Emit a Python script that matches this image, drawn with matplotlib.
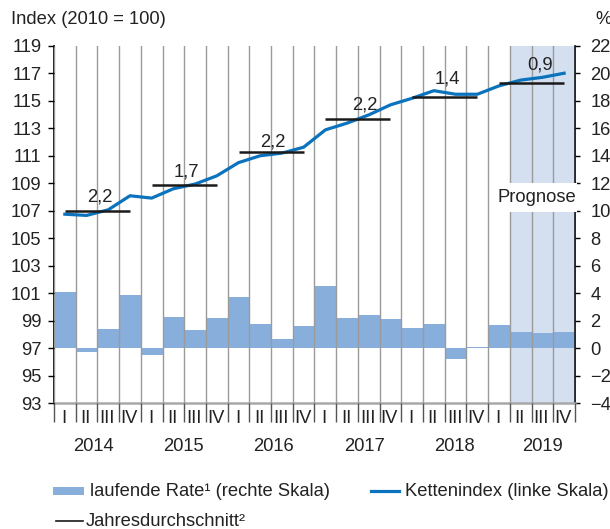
import matplotlib
matplotlib.use("Agg")
import matplotlib.pyplot as plt
import numpy as np
from matplotlib.patches import Rectangle
from matplotlib.lines import Line2D
from matplotlib.transforms import Bbox, TransformedBbox

plt.rcParams['font.family'] = ['Liberation Sans', 'DejaVu Sans']

# ---- data ----
years = ["2014", "2015", "2016", "2017", "2018", "2019"]
quarter_labels = ["I", "II", "III", "IV"] * 6
rate = [4.1, -0.3, 1.4, 3.9, -0.5, 2.3, 1.3, 2.2, 3.7, 1.8, 0.7, 1.6,
        4.5, 2.2, 2.4, 2.1, 1.5, 1.8, -0.8, 0.08, 1.7, 1.2, 1.1, 1.2]
index_vals = [106.75, 106.66, 107.07, 108.09, 107.92, 108.60, 108.94, 109.54,
              110.50, 111.00, 111.19, 111.62, 112.88, 113.37, 113.97, 114.70,
              115.18, 115.73, 115.47, 115.47, 116.08, 116.50, 116.70, 117.00]
annual_avg = [106.97, 108.84, 111.29, 113.68, 115.30, 116.29]
annual_avg_labels = ["2,2", "1,7", "2,2", "2,2", "1,4", "0,9"]
forecast_start = 21  # first forecast quarter (2019 II)

BAR = '#88aedb'
SHADE = '#d4dff0'
LINE = '#0b72bd'
GRID = '#9a9a9a'
TXT = '#222222'
FS = 13.2

fig = plt.figure(figsize=(6.1, 5.29), dpi=100)
ax = fig.add_axes([0.0885, 0.2376, 0.8541, 0.676])
ax2 = ax.twinx()
ax.set_zorder(ax2.get_zorder() + 1)
ax.patch.set_visible(False)

n = len(rate)
xc = np.arange(n) + 0.5

# right axis: shading + bars
ax2.axvspan(forecast_start, n, color=SHADE, zorder=0, lw=0)
ax2.bar(xc, rate, width=1.0, color=BAR, zorder=2, lw=0)
ax2.set_ylim(-4, 22)
ax2.set_yticks(np.arange(-4, 23, 2))
ax2.tick_params(axis='y', right=True, length=3.5, width=1, pad=7.5,
                labelsize=FS, colors='black', labelcolor=TXT)
for s in ['top', 'left', 'bottom']:
    ax2.spines[s].set_visible(False)
ax2.spines['right'].set_linewidth(1.2)

# left axis
ax.set_xlim(0, n)
ax.set_ylim(93, 119)
ax.set_yticks(np.arange(93, 120, 2))
ax.tick_params(axis='y', left=True, length=4, width=1, pad=5,
               labelsize=FS, labelcolor=TXT)
ax.set_xticks(np.arange(0, n + 1))
ax.tick_params(axis='x', length=14, width=1.0, color='#555555', labelbottom=False)
ax.grid(axis='x', color=GRID, lw=1.0, zorder=1)
ax.set_axisbelow(False)
ax.spines['top'].set_visible(False)
ax.spines['right'].set_visible(False)
ax.spines['left'].set_linewidth(1.2)
ax.spines['bottom'].set_color('#a8a8a8')
ax.spines['bottom'].set_linewidth(1.8)

# index line
ax.plot(xc, index_vals, color=LINE, lw=2.3, zorder=4, solid_joinstyle='round')

# annual averages
label_dx = [0.12, 0.08, 0.1, 0.3, 0.1, 0.4]
label_dy = [6.7, 6.5, 3.8, 7.0, 9.6, 10.0]
for i, (v, lab) in enumerate(zip(annual_avg, annual_avg_labels)):
    x0 = 4 * i + 0.5
    ax.plot([x0, x0 + 3], [v, v], color='#1a1a1a', lw=1.8, zorder=5,
            solid_capstyle='butt')
    ax.annotate(lab, (4 * i + 2 + label_dx[i], v), xytext=(0, label_dy[i]),
                textcoords='offset points', ha='center', va='baseline',
                fontsize=FS, color=TXT, zorder=6)

# Prognose box
fig.patches.append(Rectangle((498 / 610, (529 - 212) / 529), 79 / 610, 29 / 529,
                             transform=fig.transFigure, facecolor='white',
                             edgecolor='none', zorder=5))
fig.text(537 / 610, (529 - 197) / 529, "Prognose", ha='center', va='center',
         fontsize=FS, color=TXT, zorder=6)

# quarter labels (clipped like the original)
clip = TransformedBbox(Bbox([[0, (529 - 426) / 529], [1, (529 - 404) / 529]]),
                       fig.transFigure)
for k, q in enumerate(quarter_labels):
    t = ax.annotate(q, (k + 0.45, 93), xytext=(0, -4.5), textcoords='offset points',
                    ha='center', va='top', fontsize=FS, color=TXT,
                    annotation_clip=False)
    t.set_clip_on(True)
    t.set_clip_box(clip)

# year labels
year_dx = [-0.2, -0.05, 0.1, 0.3, 0.45, 0.5]
year_y = -(446 - 403.3) / (0.676 * 529)
for i, y in enumerate(years):
    ax.text(4 * i + 2 + year_dx[i], year_y, y, transform=ax.get_xaxis_transform(),
            ha='center', va='center', fontsize=FS, color=TXT)

# axis titles
fig.text(11 / 610, 1 - 20 / 529, "Index (2010 = 100)", ha='left', va='center',
         fontsize=FS, color=TXT)
fig.text(595 / 610, 1 - 20 / 529, "%", ha='left', va='center',
         fontsize=FS, color=TXT)

# legend (manual)
fig.patches.append(Rectangle((53 / 610, 1 - 495 / 529), 31 / 610, 8 / 529,
                             transform=fig.transFigure, facecolor=BAR,
                             edgecolor='none'))
fig.text(90 / 610, 1 - 492 / 529, "laufende Rate¹ (rechte Skala)", ha='left',
         va='center', fontsize=FS, color=TXT)
fig.lines.append(Line2D([371 / 610, 399 / 610], [1 - 491 / 529, 1 - 491 / 529],
                        transform=fig.transFigure, color=LINE, lw=2.3))
fig.text(405 / 610, 1 - 492 / 529, "Kettenindex (linke Skala)", ha='left',
         va='center', fontsize=FS, color=TXT)
fig.lines.append(Line2D([56 / 610, 83 / 610], [1 - 521 / 529, 1 - 521 / 529],
                        transform=fig.transFigure, color='#1a1a1a', lw=1.2))
fig.text(86 / 610, 1 - 521 / 529, "Jahresdurchschnitt²", ha='left',
         va='center', fontsize=FS, color=TXT)

fig.savefig("out.png", dpi=100)
